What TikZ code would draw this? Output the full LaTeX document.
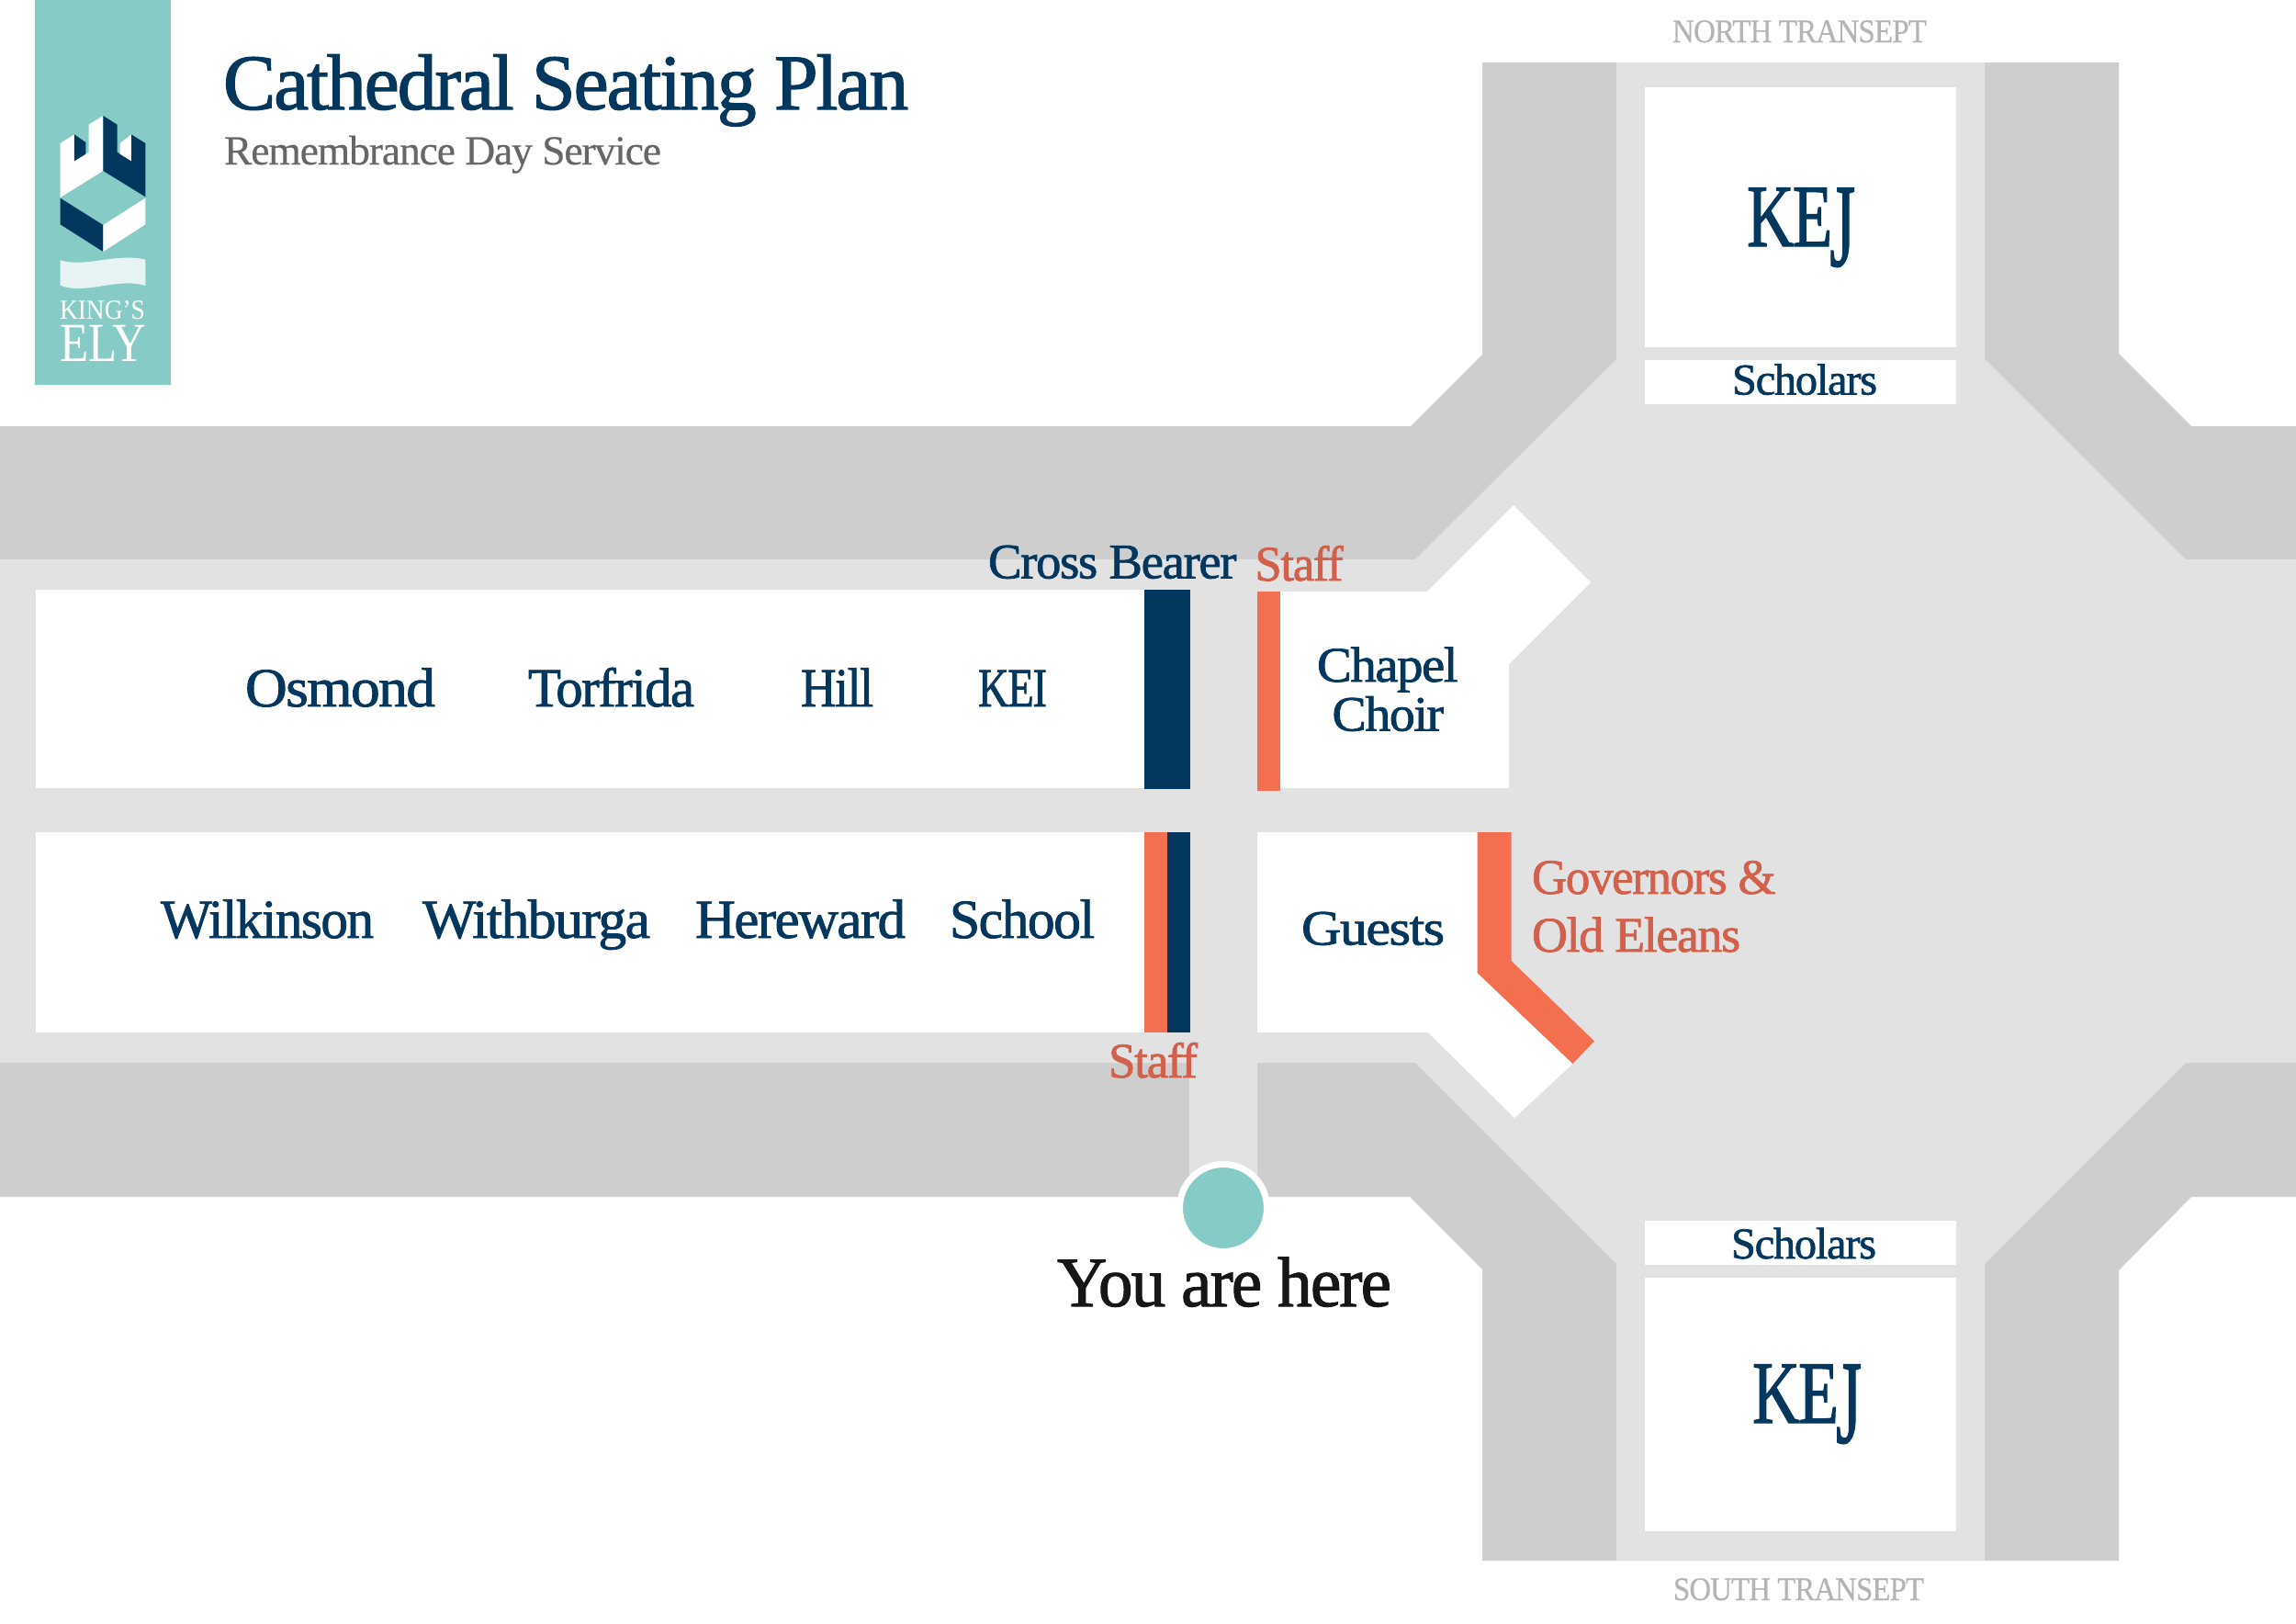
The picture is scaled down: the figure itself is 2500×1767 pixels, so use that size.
\documentclass[tikz,border=0pt]{standalone}
\usepackage{fontspec}
\usepackage{graphicx}
\setmainfont{Liberation Serif}
\newfontfamily\medfont[FakeBold=1.4,LetterSpace=-2.5]{Liberation Serif}
\newfontfamily\thinfont[FakeBold=0.4,LetterSpace=-2.5]{Liberation Serif}
\definecolor{navy}{HTML}{03375E}
\definecolor{coral}{HTML}{F36F50}
\definecolor{coraltext}{HTML}{D2604A}
\definecolor{tealbg}{HTML}{87CBC7}
\definecolor{wallgrey}{HTML}{CECECE}
\definecolor{floorgrey}{HTML}{E2E2E2}
\definecolor{subgrey}{HTML}{666666}
\definecolor{capgrey}{HTML}{B4B4B4}
\definecolor{inkblack}{HTML}{161616}
\definecolor{ribbon}{HTML}{E8F4F3}
\tikzset{
  wall/.style={fill=wallgrey,draw=none},
  floorarea/.style={fill=floorgrey,draw=none},
  seat/.style={fill=white,draw=none},
  navybar/.style={fill=navy,draw=none},
  coralbar/.style={fill=coral,draw=none},
  lab/.style={anchor=base west,inner sep=0pt,outer sep=0pt},
  marker/.style={circle,fill=tealbg,draw=white,line width=7pt,minimum size=95pt,inner sep=0pt}
}
% name, x-left, width, baseline y, font size, colour, text
\newcommand{\lbl}[7]{\node[lab,text=#6] (#1) at (#2,#4) {\resizebox{#3pt}{\height}{\fontsize{#5pt}{#5pt}\medfont #7}};}
\newcommand{\lblthin}[7]{\node[lab,text=#6] (#1) at (#2,#4) {\resizebox{#3pt}{\height}{\fontsize{#5pt}{#5pt}\thinfont #7}};}
\newcommand{\lblplain}[7]{\node[lab,text=#6] (#1) at (#2,#4) {\resizebox{#3pt}{\height}{\fontsize{#5pt}{#5pt}\selectfont #7}};}
\newcommand{\kejword}{KE\kern-0.04em\raisebox{-0.22em}{\scalebox{1}[1.33]{J}}}
\begin{document}
\begin{tikzpicture}[x=1pt,y=-1pt]
\useasboundingbox (0,0) rectangle (2500,1767);
\fill[white] (0,0) rectangle (2500,1767);
% walls
\path[wall] (0,464)--(1536,464)--(1614,386)--(1614,68)--(2307,68)--(2307,385)--(2386,464)--(2500,464)--(2500,1303)--(2386,1303)--(2307,1383)--(2307,1699)--(1614,1699)--(1614,1382)--(1535,1303)--(0,1303)--cycle;
% floor
\path[floorarea] (0,609)--(1541,609)--(1760,391)--(1760,68)--(2161,68)--(2161,391)--(2380,609)--(2500,609)--(2500,1157)--(2380,1157)--(2161,1376)--(2161,1699)--(1760,1699)--(1760,1376)--(1541,1157)--(1369,1157)--(1369,1320)--(1295,1320)--(1295,1157)--(0,1157)--cycle;
% seating blocks
\path[seat] (39,642) rectangle (1246,858);
\path[seat] (39,906) rectangle (1246,1124);
\path[seat] (1369,644)--(1554,644)--(1648,550)--(1732,634)--(1643,723)--(1643,858)--(1369,858)--cycle;
\path[seat] (1369,906)--(1609,906)--(1609,1059)--(1712.5,1158)--(1649,1217)--(1555,1124)--(1369,1124)--cycle;
\path[seat] (1791,95) rectangle (2130,378);
\path[seat] (1791,392) rectangle (2130,440);
\path[seat] (1791,1329) rectangle (2130,1377);
\path[seat] (1791,1390.5) rectangle (2130,1667);
% bars
\path[navybar] (1246,642) rectangle (1295.5,859);
\path[coralbar] (1369,644) rectangle (1394,861);
\path[coralbar] (1246,906) rectangle (1271,1124);
\path[navybar] (1271,906) rectangle (1296,1124);
\path[coralbar] (1608.5,906)--(1645.5,906)--(1645.5,1046)--(1736,1133.5)--(1712.5,1158)--(1608.5,1059)--cycle;
% logo
\fill[tealbg] (38,0) rectangle (186,419);
\begin{scope}[shift={(30,100)},x=0.3333pt,y=-0.3333pt]
\fill[white] (107,168)--(153,139)--(153,226)--(200,197)--(200,107)--(247,78)--(247,258)--(107,345)--cycle;
\fill[navy] (153,139)--(190,165)--(190,203)--(153,226)--cycle;
\fill[navy] (247,78)--(293,107)--(293,197)--(339,226)--(339,139)--(385,168)--(385,343)--(247,258)--cycle;
\fill[white] (302,168)--(339,139)--(339,226)--(302,203)--cycle;
\fill[navy] (107,347)--(247,435)--(247,522)--(107,433)--cycle;
\fill[white] (247,435)--(385,347)--(385,433)--(247,522)--cycle;
\fill[ribbon] (107,550) .. controls (190,575) and (290,525) .. (385,548) -- (385,633) .. controls (290,605) and (190,665) .. (107,632) -- cycle;
\end{scope}
\lblplain{kings}{65}{93}{347}{30}{white}{KING’S}
\lblplain{ely}{65}{94}{393}{60}{white}{ELY}
% heading
\lbl{title}{243}{746}{119}{86}{navy}{Cathedral Seating Plan}
\lblthin{subtitle}{244}{476}{179}{45}{subgrey}{Remembrance Day Service}
% transept captions
\lblthin{north}{1821}{277}{46}{36}{capgrey}{NORTH TRANSEPT}
\lblthin{south}{1822}{273}{1742}{36}{capgrey}{SOUTH TRANSEPT}
\lbl{kejn}{1902}{118}{268}{97}{navy}{\kejword}
\lbl{kejs}{1908}{119}{1549}{97}{navy}{\kejword}
\lbl{schn}{1886}{158}{429.5}{48}{navy}{Scholars}
\lbl{schs}{1885}{158}{1370}{48}{navy}{Scholars}
% nave
\lbl{osmond}{267}{207}{769}{60}{navy}{Osmond}
\lbl{torfrida}{575}{181}{769}{60}{navy}{Torfrida}
\lbl{hill}{872}{79}{769}{60}{navy}{Hill}
\lbl{kei}{1065}{75}{769}{60}{navy}{KEI}
\lbl{wilkinson}{175}{232}{1021}{60}{navy}{Wilkinson}
\lbl{withburga}{460}{248}{1021}{60}{navy}{Withburga}
\lbl{hereward}{757}{229}{1021}{60}{navy}{Hereward}
\lbl{school}{1034}{158}{1021}{60}{navy}{School}
% crossing
\lbl{cross}{1076}{270.5}{629.5}{54}{navy}{Cross Bearer}
\lbl{stafftop}{1366.5}{96}{632}{54}{coraltext}{Staff}
\lbl{chapel}{1434}{153.5}{742}{54}{navy}{Chapel}
\lbl{choir}{1450.5}{121.5}{795.5}{54}{navy}{Choir}
\lbl{guests}{1417}{156}{1028.5}{54}{navy}{Guests}
\lbl{gov}{1668}{265.5}{973}{54}{coraltext}{Governors \&}
\lbl{old}{1668}{227}{1036}{54}{coraltext}{Old Eleans}
\lbl{staffbot}{1207}{97}{1173}{54}{coraltext}{Staff}
% you are here
\node[marker] (here) at (1332,1315) {};
\lbl{youare}{1151}{364}{1422}{77}{inkblack}{You are here}
\end{tikzpicture}
\end{document}
